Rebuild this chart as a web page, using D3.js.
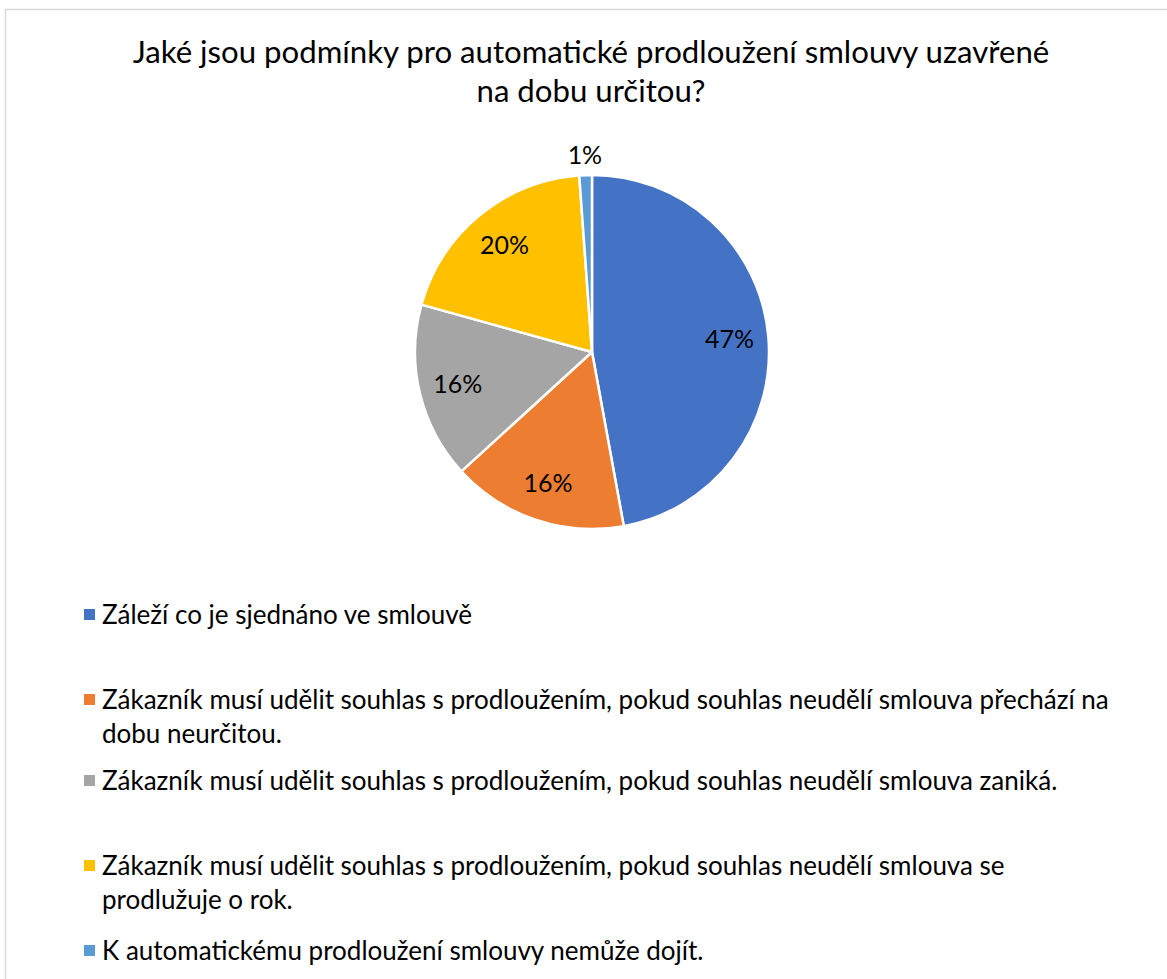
<!DOCTYPE html>
<html>
<head>
<meta charset="utf-8">
<script src="https://cdn.jsdelivr.net/npm/d3@7"></script>
<style>
  body { margin: 0; background: #fff; }
  svg { display: block; font-family: Lato, "Noto Sans", sans-serif; }
</style>
</head>
<body>
<svg id="chart" width="1167" height="979"></svg>
<script>
// chart data
const titleLines = ["Jaké jsou podmínky pro automatické prodloužení smlouvy uzavřené", "na dobu určitou?"];
const categories = [
  "Záleží co je sjednáno ve smlouvě",
  "Zákazník musí udělit souhlas s prodloužením, pokud souhlas neudělí smlouva přechází na dobu neurčitou.",
  "Zákazník musí udělit souhlas s prodloužením, pokud souhlas neudělí smlouva zaniká.",
  "Zákazník musí udělit souhlas s prodloužením, pokud souhlas neudělí smlouva se prodlužuje o rok.",
  "K automatickému prodloužení smlouvy nemůže dojít."
];
const counts = [41, 14, 14, 17, 1];
const colors = ["#4472C4", "#ED7D31", "#A5A5A5", "#FFC000", "#5B9BD5"];

const svg = d3.select('#chart');

// outer frame (right / bottom edges fall outside the picture)
svg.append('rect')
  .attr('x', 5.5).attr('y', 9.5)
  .attr('width', 1200).attr('height', 1000)
  .attr('fill', 'none')
  .attr('stroke', '#d9d9d9')
  .attr('stroke-width', 1.5);

// helper: font size that makes a string a given width
function fitSize(str, target, base) {
  const t = svg.append('text').attr('font-size', base).text(str);
  const w = t.node().getComputedTextLength();
  t.remove();
  return base * target / w;
}

// title
const titleSize = fitSize(titleLines[0], 917, 26);
svg.append('g')
  .selectAll('text')
  .data(titleLines)
  .join('text')
    .attr('x', 591)
    .attr('y', (d, i) => 63 + i * 39)
    .attr('text-anchor', 'middle')
    .attr('font-size', titleSize)
    .attr('fill', '#000')
    .text(d => d);

// pie
const cx = 592, cy = 352, R = 177;
const total = d3.sum(counts);
const pie = d3.pie().sort(null).value(d => d);
const arcs = pie(counts);
const arc = d3.arc().innerRadius(0).outerRadius(R);
const labelArc = d3.arc().innerRadius(R * 0.78).outerRadius(R * 0.78);
const outerArc = d3.arc().innerRadius(R + 20).outerRadius(R + 20);

const g = svg.append('g').attr('transform', `translate(${cx},${cy})`);
g.selectAll('path')
  .data(arcs)
  .join('path')
    .attr('d', arc)
    .attr('fill', (d, i) => colors[i])
    .attr('stroke', '#fff')
    .attr('stroke-width', 2.5)
    .attr('stroke-linejoin', 'round');

const labelSize = fitSize("47%", 49, 20);
g.selectAll('text.pct')
  .data(arcs)
  .join('text')
    .attr('class', 'pct')
    .attr('transform', d => {
      const p = (d.endAngle - d.startAngle) < 0.2 ? outerArc.centroid(d) : labelArc.centroid(d);
      return `translate(${p[0]},${p[1]})`;
    })
    .attr('text-anchor', 'middle')
    .attr('dy', '0.35em')
    .attr('font-size', labelSize)
    .attr('fill', '#000')
    .text(d => Math.round(d.data / total * 100) + '%');

// legend
const legSize = fitSize(categories[0], 370, 22);
const maxW = 1018;
const rowY = [615, 700, 781, 866, 951];
const lineH = 34;

function wrap(str) {
  const words = str.split(' ');
  const lines = [];
  let cur = '';
  const t = svg.append('text').attr('font-size', legSize);
  words.forEach(w => {
    const test = cur ? cur + ' ' + w : w;
    t.text(test);
    if (t.node().getComputedTextLength() > maxW && cur) {
      lines.push(cur);
      cur = w;
    } else {
      cur = test;
    }
  });
  lines.push(cur);
  t.remove();
  return lines;
}

const legend = svg.append('g');
categories.forEach((c, i) => {
  const item = legend.append('g').attr('transform', `translate(0,${rowY[i]})`);
  item.append('rect')
    .attr('x', 84).attr('y', -6)
    .attr('width', 11).attr('height', 11)
    .attr('fill', colors[i]);
  item.append('text')
    .attr('font-size', legSize)
    .attr('fill', '#000')
    .selectAll('tspan')
    .data(wrap(c))
    .join('tspan')
      .attr('x', 102)
      .attr('y', (d, j) => j * lineH)
      .attr('dy', '0.35em')
      .text(d => d);
});
</script>
</body>
</html>
